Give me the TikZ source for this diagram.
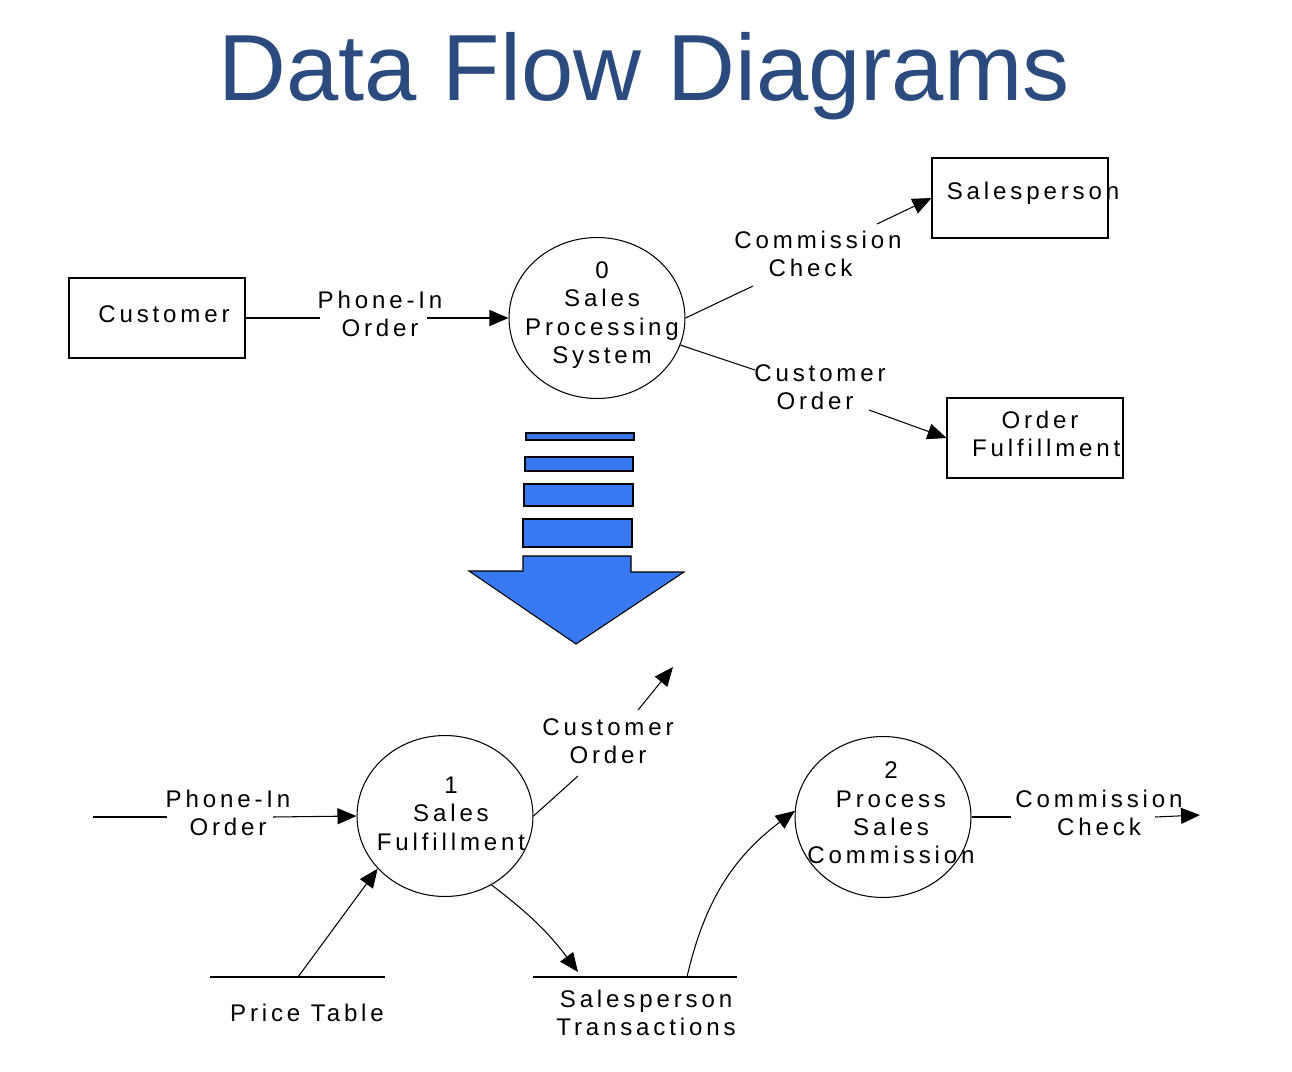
\documentclass[tikz,border=0pt]{standalone}
\usepackage{fontspec}
\setmainfont{Liberation Sans}
\newfontfamily\dfdfont{Liberation Sans}[LetterSpace=16]
\usepackage{tikz}
\usetikzlibrary{arrows.meta,shapes.geometric}
\definecolor{titleblue}{HTML}{2B4A7E}
\definecolor{arrowblue}{HTML}{3878F0}
\tikzset{
  entity/.style={draw, line width=0.6pt, minimum width=3.52cm, minimum height=1.6cm,
    inner sep=0pt},
  process/.style={draw, line width=0.6pt, ellipse, minimum width=3.52cm,
    minimum height=3.22cm, inner sep=0pt},
  flowtext/.style={align=center, inner sep=0pt, font=\dfdfont\fontsize{13.7}{16.2}\selectfont},
  line/.style={line width=0.6pt},
  flow/.style={line width=0.6pt, -{Triangle[length=0.38cm,width=0.32cm]}},
  bluebar/.style={fill=arrowblue, draw=black, line width=0.6pt},
}

\begin{document}
\begin{tikzpicture}[x=0.02cm, y=-0.02cm]
  \useasboundingbox (0,0) rectangle (1292,1072);
  \node[anchor=base, text=titleblue, font=\fontsize{53.5}{60}\selectfont] (title) at (644,100) {Data Flow Diagrams};

  % context diagram
  \node[entity, label={[flowtext, xshift=0.14cm, yshift=0.08cm]center:Customer}] (customer) at (157,318) {};
  \node[process, label={[flowtext, xshift=0.1cm, yshift=0.06cm]center:{0\\Sales\\Processing\\System}}] (p0) at (597,318) {};
  \node[entity, label={[flowtext, xshift=0.26cm, yshift=0.1cm]center:Salesperson}] (salesperson) at (1020,198) {};
  \node[entity, label={[flowtext, xshift=0.1cm, yshift=0.08cm]center:{Order\\\hspace*{0.25cm}Fulfillment}}] (orderful) at (1035,438) {};

  \node[flowtext] (phone0) at (380,314) {Phone-In\\Order};
  \node[flowtext] (check0) at (818,254) {Commission\\\hspace*{-0.3cm}Check};
  \node[flowtext] (order0) at (820,387) {Customer\\\hspace*{-0.2cm}Order};

  \coordinate (phone0-in) at (320,318);
  \coordinate (phone0-out) at (427,318);
  \coordinate (check0-in) at (753,286);
  \coordinate (check0-out) at (877,224);
  \coordinate (order0-in) at (755,370);
  \coordinate (order0-out) at (869,410);

  \draw[line] (customer.east) -- (phone0-in);
  \draw[flow] (phone0-out) -- (p0.west);
  \draw[line] (p0.east) -- (check0-in);
  \draw[flow] (check0-out) -- (salesperson.west);
  \draw[line] (p0.-18) -- (order0-in);
  \draw[flow] (order0-out) -- (orderful.west);

  % big arrow
  \filldraw[bluebar] (526,433) rectangle (634,440);
  \filldraw[bluebar] (525,457) rectangle (633,471);
  \filldraw[bluebar] (524,484) rectangle (633,506);
  \filldraw[bluebar] (523,519) rectangle (632,547);
  \filldraw[bluebar] (523,556) -- (631,556) -- (631,572) -- (684,572)
    -- (576,644) -- (469,571) -- (523,571) -- cycle;

  % level 1 diagram
  \node[process, label={[flowtext, xshift=0.12cm, yshift=0.05cm]center:{1\\Sales\\Fulfillment}}] (p1) at (445,816) {};
  \node[process, label={[flowtext, xshift=0.16cm, yshift=0.08cm]center:{2\\Process\\Sales\\Commission}}] (p2) at (883,817) {};

  \node[flowtext] (phone1) at (228,813) {Phone-In\\Order};
  \node[flowtext] (order1) at (608,741) {Customer\\Order};
  \node[flowtext] (check1) at (1099,813) {Commission\\Check};
  \node[flowtext] (pricetable) at (307,1013) {Price Table};
  \node[flowtext] (transactions) at (646,1013) {Salesperson\\Transactions};

  \coordinate (phone1-start) at (93,817);
  \coordinate (phone1-in) at (167,817);
  \coordinate (phone1-out) at (273,817);
  \coordinate (order1-in) at (578,776);
  \coordinate (order1-out) at (638,710);
  \coordinate (order1-end) at (673,667);
  \coordinate (check1-in) at (1011,817);
  \coordinate (check1-out) at (1155,817);
  \coordinate (check1-end) at (1200,815);
  \coordinate (price-l) at (210,977);
  \coordinate (price-r) at (385,977);
  \coordinate (price-tap) at (298,977);
  \coordinate (trans-l) at (533,977);
  \coordinate (trans-r) at (737,977);
  \coordinate (trans-in) at (578,972);
  \coordinate (trans-out) at (687,977);

  \draw[line] (price-l) -- (price-r);
  \draw[line] (trans-l) -- (trans-r);

  \draw[line] (phone1-start) -- (phone1-in);
  \draw[flow] (phone1-out) -- (p1.west);
  \draw[line] (p1.east) -- (order1-in);
  \draw[flow] (order1-out) -- (order1-end);
  \draw[flow] (price-tap) -- (p1.218);
  \draw[flow] (p1.-56) to[bend left=8] (trans-in);
  \draw[flow] (trans-out) to[bend left=20] (p2.176);
  \draw[line] (p2.east) -- (check1-in);
  \draw[flow] (check1-out) -- (check1-end);
\end{tikzpicture}
\end{document}
